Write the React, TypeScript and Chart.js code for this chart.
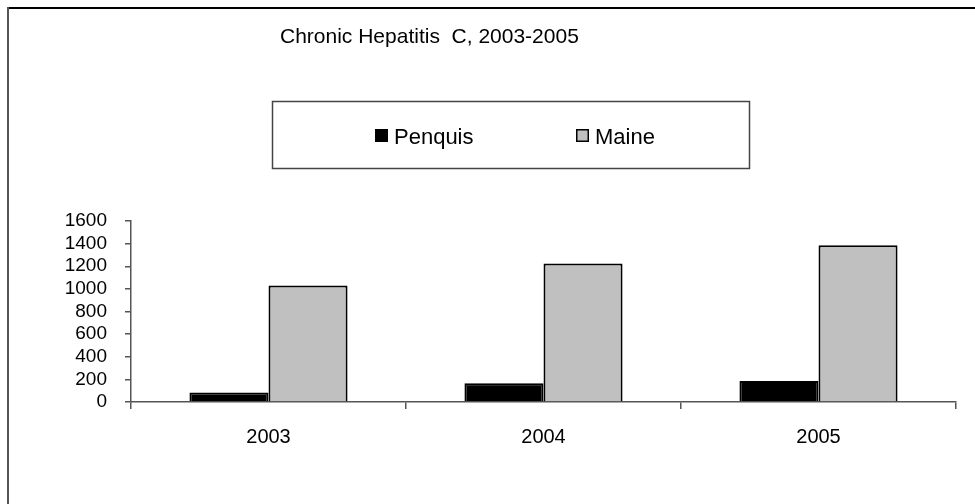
import React, { useEffect, useRef } from "react";
import { Chart, registerables } from "chart.js";

Chart.register(...registerables);

const TITLE = "Chronic Hepatitis  C, 2003-2005";
const years = ["2003", "2004", "2005"];
const seriesNames = ["Penquis", "Maine"];
const penquis = [85, 165, 185];
const maine = [1030, 1225, 1385];
const yTicks = [0, 200, 400, 600, 800, 1000, 1200, 1400, 1600];

const FONT = "'Liberation Sans', Arial, sans-serif";

const decorPlugin = {
  id: "decor",
  afterDraw(chart: any) {
    const ctx = chart.ctx as CanvasRenderingContext2D;
    ctx.save();
    // frame lines (top and left)
    ctx.fillStyle = "#000";
    ctx.fillRect(7, 7, 968, 2);
    ctx.fillStyle = "#555";
    ctx.fillRect(7, 7, 2, 497);
    // title
    ctx.fillStyle = "#000";
    ctx.font = `21px ${FONT}`;
    ctx.textAlign = "left";
    ctx.textBaseline = "alphabetic";
    ctx.fillText(TITLE, 280, 43);
    // legend frame
    ctx.strokeStyle = "#444";
    ctx.lineWidth = 1.5;
    ctx.strokeRect(272.5, 101.5, 477, 67);
    // legend items
    const ds = chart.data.datasets;
    const items = [
      { x: 375, label: ds[0].label, fill: ds[0].backgroundColor },
      { x: 576, label: ds[1].label, fill: ds[1].backgroundColor },
    ];
    ctx.font = `22px ${FONT}`;
    for (const it of items) {
      ctx.fillStyle = it.fill;
      ctx.fillRect(it.x, 129, 13, 13);
      ctx.strokeStyle = "#000";
      ctx.lineWidth = 1.5;
      ctx.strokeRect(it.x + 0.75, 129.75, 11.5, 11.5);
      ctx.fillStyle = "#000";
      ctx.fillText(it.label, it.x + 19, 144);
    }
    ctx.restore();
  },
};

export default function App() {
  const ref = useRef<HTMLCanvasElement>(null);
  useEffect(() => {
    document.body.style.margin = "0";
    const chart = new Chart(ref.current!, {
      type: "bar",
      data: {
        labels: years,
        datasets: [
          {
            label: seriesNames[0],
            data: penquis,
            backgroundColor: "#000000",
            borderColor: "#000000",
            borderWidth: 2,
          },
          {
            label: seriesNames[1],
            data: maine,
            backgroundColor: "#C0C0C0",
            borderColor: "#000000",
            borderWidth: 2,
          },
        ],
      },
      options: {
        responsive: false,
        animation: false,
        layout: { padding: { top: 221, right: 19, left: 0, bottom: 0 } },
        plugins: {
          legend: { display: false },
          title: { display: false },
          tooltip: { enabled: false },
        },
        datasets: { bar: { categoryPercentage: 0.575, barPercentage: 1 } },
        scales: {
          x: {
            grid: {
              offset: true,
              drawOnChartArea: false,
              drawTicks: true,
              tickLength: 7,
              color: "#555",
              lineWidth: 1.5,
            },
            border: { color: "#555", width: 1.5 },
            ticks: {
              color: "#000",
              font: { family: FONT, size: 20 },
              padding: 16,
            },
            afterFit: (s: any) => {
              s.height = 102;
            },
          },
          y: {
            min: 0,
            max: 1600,
            afterBuildTicks: (s: any) => {
              s.ticks = yTicks.map((v) => ({ value: v }));
            },
            grid: {
              drawOnChartArea: false,
              drawTicks: true,
              tickLength: 6,
              color: "#555",
              lineWidth: 1.5,
            },
            border: { color: "#555", width: 1.5 },
            ticks: {
              color: "#000",
              autoSkip: false,
              font: { family: FONT, size: 19, lineHeight: 1 },
              padding: 18,
              callback: (v: any) => String(v),
            },
            afterFit: (s: any) => {
              s.width = 131;
            },
          },
        },
      },
      plugins: [decorPlugin],
    });
    return () => chart.destroy();
  }, []);
  return (
    <div style={{ position: "absolute", left: 0, top: 0, width: 975, height: 504 }}>
      <canvas ref={ref} width={975} height={504} style={{ display: "block" }} />
    </div>
  );
}
